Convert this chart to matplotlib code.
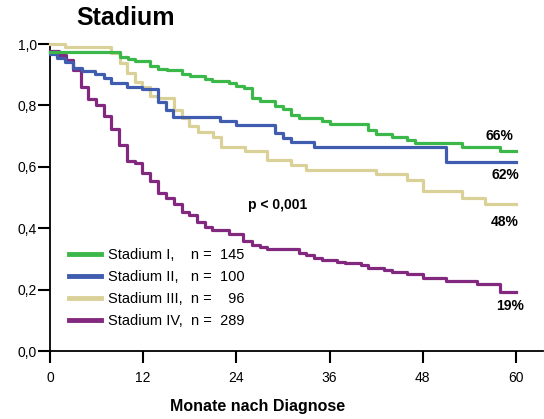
import matplotlib
matplotlib.use("Agg")
import matplotlib.pyplot as plt

plt.rcParams['font.family'] = ['Liberation Sans', 'DejaVu Sans']

# Kaplan-Meier steps (months, survival)
t_stage1 = [0, 9.0, 10.1, 10.9, 12.9, 13.9, 15.0, 17.0, 18.0, 20.0, 20.9, 23.0, 24.0, 25.0, 26.0,
            27.0, 29.0, 30.0, 31.0, 32.0, 35.0, 36.0, 41.0, 42.0, 44.0, 46.0, 47.0, 53.0, 58.0, 60.0]
s_stage1 = [0.975, 0.958, 0.951, 0.945, 0.929, 0.92, 0.914, 0.902, 0.895, 0.887, 0.881, 0.872, 0.863, 0.856, 0.825,
            0.815, 0.798, 0.787, 0.769, 0.76, 0.748, 0.74, 0.72, 0.708, 0.698, 0.686, 0.677, 0.666, 0.651, 0.651]

t_stage2 = [0, 0.9, 1.9, 3.0, 4.1, 5.8, 6.9, 7.9, 9.9, 11.8, 13.9, 14.9, 15.9, 21.9, 23.9,
            29.0, 30.0, 31.0, 34.0, 51.0, 60.0]
s_stage2 = [0.966, 0.955, 0.942, 0.923, 0.913, 0.901, 0.888, 0.872, 0.861, 0.852, 0.81, 0.785, 0.762, 0.748, 0.736,
            0.709, 0.694, 0.681, 0.666, 0.617, 0.617]

t_stage3 = [0, 1.9, 7.9, 9.0, 9.9, 10.9, 11.8, 12.9, 13.9, 16.0, 17.0, 17.9, 19.1, 21.0, 22.0,
            25.1, 28.0, 31.0, 33.0, 42.0, 46.0, 48.0, 53.0, 56.0, 60.0]
s_stage3 = [1.0, 0.99, 0.972, 0.938, 0.907, 0.875, 0.86, 0.832, 0.823, 0.785, 0.76, 0.733, 0.714, 0.696, 0.666,
            0.65, 0.622, 0.606, 0.59, 0.575, 0.557, 0.521, 0.498, 0.479, 0.479]

t_stage4 = [0, 1.1, 2.0, 3.0, 4.0, 4.9, 5.9, 6.9, 7.85, 8.9, 9.95, 10.9, 11.9, 12.9, 13.9, 14.9,
            16.0, 17.0, 17.9, 18.9, 20.0, 20.9, 23.0, 24.9, 26.0, 27.0, 28.0, 32.0, 33.0, 34.0,
            35.0, 37.0, 38.0, 40.0, 41.0, 43.0, 44.0, 46.0, 48.0, 51.0, 55.0, 58.0, 60.0]
s_stage4 = [0.978, 0.963, 0.947, 0.915, 0.86, 0.822, 0.8, 0.766, 0.722, 0.671, 0.62, 0.614, 0.581, 0.553, 0.514, 0.498,
            0.478, 0.452, 0.443, 0.421, 0.405, 0.393, 0.382, 0.357, 0.345, 0.34, 0.331, 0.318, 0.313, 0.302,
            0.296, 0.291, 0.286, 0.28, 0.27, 0.264, 0.258, 0.25, 0.237, 0.229, 0.217, 0.191, 0.191]

labels = ['Stadium I,    n =  145', 'Stadium II,   n =  100', 'Stadium III,  n =    96', 'Stadium IV,  n =  289']
colors = ['#3cb84a', '#3f5caf', '#d9d197', '#82287f']
end_labels = ['66%', '62%', '48%', '19%']
end_pos = [(57.9, 0.70), (58.6, 0.573), (58.6, 0.421), (59.2, 0.148)]

x_ticks = [0, 12, 24, 36, 48, 60]
y_ticks = [0.0, 0.2, 0.4, 0.6, 0.8, 1.0]
y_ticklabels = ['0,0', '0,2', '0,4', '0,6', '0,8', '1,0']

fig = plt.figure(figsize=(5.44, 4.19), dpi=100)
ax = fig.add_axes([50 / 544, 68 / 419, 493 / 544, 307 / 419])

series = [(t_stage1, s_stage1), (t_stage2, s_stage2), (t_stage3, s_stage3), (t_stage4, s_stage4)]
# draw in reverse so green ends up on top like the original
for i in [3, 2, 1, 0]:
    t, s = series[i]
    ax.step(t, s, where='post', color=colors[i], lw=2.3, label=labels[i], clip_on=False, zorder=3 + (3 - i))

for txt, (x, y) in zip(end_labels, end_pos):
    ax.text(x, y, txt, ha='center', va='center', fontsize=10, fontweight='bold')
ax.text(25.5, 0.476, 'p < 0,001', ha='left', va='center', fontsize=10, fontweight='bold')

ax.set_xlim(0, 493 / 7.767)
ax.set_ylim(0, 1.0)
ax.set_xticks(x_ticks)
ax.set_yticks(y_ticks)
ax.set_yticklabels(y_ticklabels)
ax.tick_params(axis='both', direction='out', length=8.5, width=1.5, labelsize=10, colors='black')
ax.tick_params(axis='y', pad=1)
ax.tick_params(axis='x', pad=6)
for side in ['top', 'right']:
    ax.spines[side].set_visible(False)
for side in ['left', 'bottom']:
    ax.spines[side].set_linewidth(1.3)

ax.set_xlabel('Monate nach Diagnose', fontsize=11.5, fontweight='bold')
ax.xaxis.set_label_coords((257.5 - 50) / 493, -0.155)

fig.text(126 / 544, 1 - 18 / 419, 'Stadium', ha='center', va='center', fontsize=18, fontweight='bold')

handles, lbls = ax.get_legend_handles_labels()
order = [3, 2, 1, 0]
leg = ax.legend([handles[k] for k in order], [lbls[k] for k in order],
                loc='upper left', bbox_to_anchor=(0.0385, 0.335), frameon=False,
                fontsize=10.5, handlelength=2.2, handletextpad=0.5, labelspacing=0.55,
                borderpad=0, borderaxespad=0)
for line in leg.get_lines():
    line.set_linewidth(3.5)

fig.savefig('out.png', dpi=100)
